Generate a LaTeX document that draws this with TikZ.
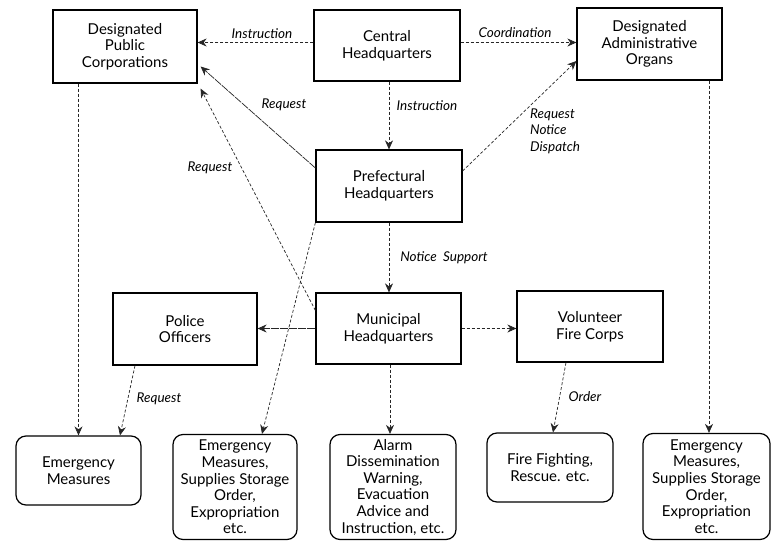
\documentclass[tikz,border=0pt]{standalone}
\usepackage{fontspec}
\setmainfont{Lato}
\usetikzlibrary{arrows.meta}
\begin{document}
\begin{tikzpicture}[x=1pt,y=-1pt,
  box/.style={draw=black,line width=1.2pt,align=center,inner sep=2pt,
    font=\fontsize{15}{16.6}\selectfont},
  rbox/.style={box,rounded corners=10pt},
  conn/.style={draw=black!85,line width=0.7pt,dash pattern=on 3pt off 2pt,
    -{Stealth[length=9pt,width=8pt]}},
  sconn/.style={conn,dash pattern=on 8pt off 1pt},
  lbl/.style={font=\fontsize{13.5}{16.5}\selectfont\itshape,inner sep=1pt}]
\useasboundingbox[fill=white] (0,0) rectangle (772,541);

% boxes
\node[box,minimum width=144pt,minimum height=73pt] (dpc) at (125,46.5) {Designated\\Public\\Corporations};
\node[box,minimum width=146pt,minimum height=71pt] (chq) at (387,45.5) {Central\\Headquarters};
\node[box,minimum width=145pt,minimum height=72pt] (dao) at (649.5,44) {Designated\\Administrative\\Organs};
\node[box,minimum width=146pt,minimum height=72pt] (pref) at (389,186) {Prefectural\\Headquarters};
\node[box,minimum width=145pt,minimum height=71pt] (muni) at (388.5,328.5) {Municipal\\Headquarters};
\node[box,minimum width=144pt,minimum height=72pt] (police) at (185,329) {Police\\Officers};
\node[box,minimum width=146pt,minimum height=71pt] (vfc) at (590,326.5) {Volunteer\\Fire Corps};

\node[rbox,minimum width=125pt,minimum height=69pt] (em1) at (78.5,470.5) {Emergency\\Measures};
\node[rbox,minimum width=124pt,minimum height=105pt] (em2) at (235,487) {Emergency\\Measures,\\Supplies Storage\\Order,\\Expropriation\\etc.};
\node[rbox,minimum width=126pt,minimum height=105pt] (alarm) at (393,487) {Alarm\\Dissemination\\Warning,\\Evacuation\\Advice and\\Instruction, etc.};
\node[rbox,minimum width=126pt,minimum height=69pt] (fire) at (550,467.5) {Fire Fighting,\\Rescue. etc.};
\node[rbox,minimum width=127pt,minimum height=106pt] (em3) at (706.5,486.5) {Emergency\\Measures,\\Supplies Storage\\Order,\\Expropriation\\etc.};

% connectors
\draw[conn] ([yshift=3pt]chq.west) -- ([yshift=3pt]chq.west -| dpc.east);
\draw[conn] ([yshift=3pt]chq.east) -- ([yshift=3pt]chq.east -| dao.west);
\draw[conn] (pref.north |- chq.south) -- (pref.north);
\draw[sconn] ([yshift=18pt]pref.west) -- ([xshift=3pt,yshift=-20pt]dpc.east);
\draw[conn] ([yshift=15pt]pref.east) -- ([yshift=-17pt]dao.west);
\draw[conn] ([yshift=18pt]muni.west) -- ([xshift=3pt,yshift=-5pt]dpc.south east);
\draw[conn] (pref.south west) -- ([xshift=27pt]em2.north);
\draw[conn] (pref.south) -- (pref.south |- muni.north);
\draw[sconn] (muni.west) -- (muni.west -| police.east);
\draw[conn] (muni.east) -- (muni.east -| vfc.west);
\draw[conn] ([xshift=1.5pt]muni.south) -- ([xshift=1.5pt]muni.south |- alarm.north);
\draw[conn] ([xshift=-50pt]police.south) -- ([xshift=41.5pt]em1.north);
\draw[conn] (em1.north |- dpc.south) -- (em1.north);
\draw[conn] ([xshift=-24pt]vfc.south) -- ([xshift=3pt]fire.north);
\draw[conn] ([xshift=2.5pt]em3.north |- dao.south) -- ([xshift=2.5pt]em3.north);

% labels
\node[lbl] (l1) at (262,34) {Instruction};
\node[lbl] (l2) at (515,33) {Coordination};
\node[lbl] (l3) at (427,106) {Instruction};
\node[lbl] (l4) at (284,105) {Request};
\node[lbl] (l5) at (210,168) {Request};
\node[lbl,align=left,anchor=west] (l6) at (529,131) {Request\\Notice\\Dispatch};
\node[lbl] (l7) at (444,258) {Notice\ \ Support};
\node[lbl] (l8) at (159,399) {Request};
\node[lbl] (l9) at (585,397) {Order};
\end{tikzpicture}
\end{document}
